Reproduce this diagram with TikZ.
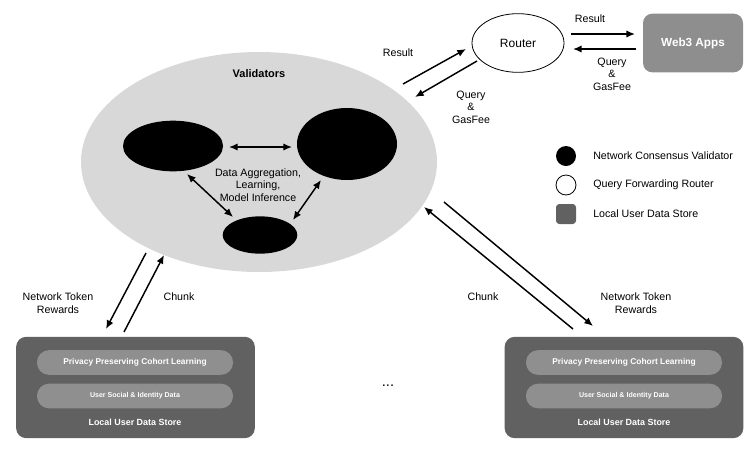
\documentclass[tikz,border=0pt]{standalone}
\usepackage{fontspec}
\setmainfont{Liberation Sans}
\usetikzlibrary{shapes.geometric,arrows.meta}
\definecolor{valgray}{HTML}{D8D8D8}
\definecolor{appgray}{HTML}{8E8E8E}
\definecolor{storegray}{HTML}{616161}
\definecolor{pillgray}{HTML}{8F8F8F}
\tikzset{
  conn/.style={line width=1.1pt,-{Latex[length=6.5pt,width=5.5pt]}},
  dconn/.style={line width=1.1pt,{Latex[length=6.5pt,width=5.5pt]}-{Latex[length=6.5pt,width=5.5pt]}},
  lbl/.style={font=\fontsize{8}{9.5}\selectfont,align=center,inner sep=0pt},
  blackell/.style={ellipse,fill=black,inner sep=0pt},
  store/.style={rounded corners=7.5pt,fill=storegray,minimum width=179pt,minimum height=76pt,inner sep=0pt},
  pill/.style={rounded corners=9pt,fill=pillgray,minimum width=147pt,minimum height=18.5pt,inner sep=0pt,text=white,font=\bfseries},
  storetxt/.style={text=white,font=\fontsize{6.7}{8}\selectfont\bfseries,inner sep=0pt}
}
\begin{document}
\begin{tikzpicture}[x=0.75pt,y=-0.75pt]
\useasboundingbox (0,0) rectangle (754,451);
% validators
\node[ellipse,fill=valgray,minimum width=267pt,minimum height=165pt,inner sep=0pt] (val) at (259,162) {};
\node[font=\fontsize{8.25}{10}\selectfont\bfseries,inner sep=0pt] (valt) at (259,74) {Validators};
\node[blackell,minimum width=75pt,minimum height=38pt] (vl) at (173,146) {};
\node[blackell,minimum width=75pt,minimum height=54pt] (vr) at (347,144) {};
\node[blackell,minimum width=56pt,minimum height=28pt] (vb) at (260,235) {};
\node[lbl] (dat) at (258,185) {Data Aggregation,\\Learning,\\Model Inference};
\coordinate (h1) at (229,147); \coordinate (h2) at (292,147);
\coordinate (d1) at (187,174); \coordinate (d2) at (233,217);
\coordinate (e1) at (293,220); \coordinate (e2) at (321,180);
\draw[dconn] (h1) -- (h2);
\draw[dconn] (d1) -- (d2);
\draw[dconn] (e1) -- (e2);
% router & web3
\node[ellipse,draw=black,fill=white,line width=0.6pt,minimum width=69pt,minimum height=44pt,inner sep=0pt,font=\fontsize{9}{10}\selectfont] (router) at (518,43) {Router};
\node[rounded corners=7pt,fill=appgray,minimum width=75pt,minimum height=44pt,inner sep=0pt,text=white,font=\fontsize{8.8}{10}\selectfont\bfseries] (web3) at (693,43) {Web3 Apps};
\coordinate (r1) at (571,34); \coordinate (r2) at (635,34);
\coordinate (q1) at (636,49); \coordinate (q2) at (573,49);
\draw[conn] (r1) -- (r2);
\draw[conn] (q1) -- (q2);
\node[lbl] (rl1) at (590,19) {Result};
\node[lbl] (ql1) at (612,74) {Query\\\&\\GasFee};
\coordinate (s1) at (403,84); \coordinate (s2) at (466,49);
\coordinate (t1) at (477,61); \coordinate (t2) at (415,97);
\draw[conn] (s1) -- (s2);
\draw[conn] (t1) -- (t2);
\node[lbl] (rl2) at (398,53) {Result};
\node[lbl] (ql2) at (471,107) {Query\\\&\\GasFee};
% legend
\node[circle,fill=black,minimum size=15pt,inner sep=0pt] (lg1) at (566,156) {};
\node[circle,draw=black,fill=white,line width=0.6pt,minimum size=15pt,inner sep=0pt] (lg2) at (566,185) {};
\node[rounded corners=2.5pt,fill=storegray,minimum size=15pt,inner sep=0pt] (lg3) at (566,214) {};
\node[lbl,anchor=west] (lt1) at (593,156) {Network Consensus Validator};
\node[lbl,anchor=west] (lt2) at (593,185) {Query Forwarding Router};
\node[lbl,anchor=west] (lt3) at (593,214) {Local User Data Store};
% left store
\node[store] (ls) at (135.5,387.5) {};
\node[pill,font=\fontsize{6.3}{7}\selectfont\bfseries] (lp1) at (135,362.5) {Privacy Preserving Cohort Learning};
\node[pill,font=\fontsize{5.3}{6}\selectfont\bfseries] (lp2) at (135,396) {User Social \& Identity Data};
\node[storetxt] (lst) at (135,422) {Local User Data Store};
\coordinate (la1) at (146,253); \coordinate (la2) at (106,329);
\coordinate (lb1) at (124,332); \coordinate (lb2) at (164,255);
\draw[conn] (la1) -- (la2);
\draw[conn] (lb1) -- (lb2);
\node[lbl] (ltok) at (58,303) {Network Token\\Rewards};
\node[lbl] (lch) at (179,297) {Chunk};
% right store
\node[store] (rs) at (624,387.5) {};
\node[pill,font=\fontsize{6.3}{7}\selectfont\bfseries] (rp1) at (624,362.5) {Privacy Preserving Cohort Learning};
\node[pill,font=\fontsize{5.3}{6}\selectfont\bfseries] (rp2) at (624,396) {User Social \& Identity Data};
\node[storetxt] (rst) at (624,422) {Local User Data Store};
\coordinate (ra1) at (573,329); \coordinate (ra2) at (424,207);
\coordinate (rb1) at (444,202); \coordinate (rb2) at (593,326);
\draw[conn] (ra1) -- (ra2);
\draw[conn] (rb1) -- (rb2);
\node[lbl] (rch) at (483,297) {Chunk};
\node[lbl] (rtok) at (636,303) {Network Token\\Rewards};
\node[font=\fontsize{11}{12}\selectfont,inner sep=0pt] (dots) at (388,386) {...};
\end{tikzpicture}
\end{document}
